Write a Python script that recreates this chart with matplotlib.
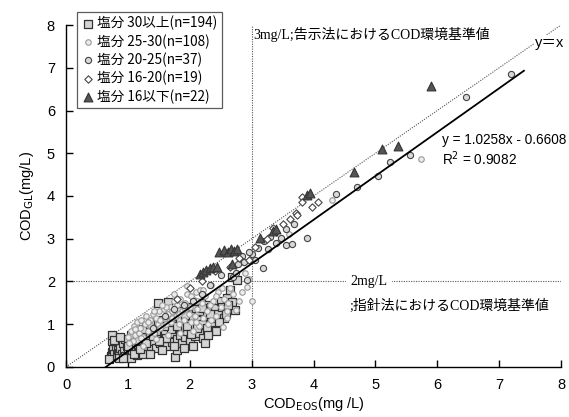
import matplotlib
matplotlib.use("Agg")
import matplotlib.pyplot as plt
import numpy as np

plt.rcParams['font.family'] = ['Liberation Sans', 'Noto Sans CJK JP', 'DejaVu Sans']

# ---------------- data ----------------
sq_x = [0.72,0.74,0.76,0.78,0.80,0.82,0.84,0.86,0.88,0.90,0.92,0.94,0.96,0.98,1.00,1.02,1.04,1.06,1.08,1.10,
        1.12,1.14,1.16,1.18,1.20,1.22,1.24,1.26,1.28,1.30,1.32,1.34,1.36,1.38,1.40,1.42,1.44,1.46,1.48,1.50,
        1.52,1.54,1.56,1.58,1.60,1.62,1.65,1.66,1.68,1.70,1.72,1.74,1.76,1.78,1.79,1.80,1.82,1.84,1.86,1.88,
        1.90,1.92,1.94,1.96,1.98,2.00,2.02,2.05,2.08,2.10,2.12,2.15,2.18,2.20,2.22,2.25,2.28,2.30,2.35,2.38,
        2.40,2.42,2.45,2.50,2.55,2.60,2.65,2.68,2.68,2.73,2.77,0.70,0.75,0.74,0.85,0.95,1.05,1.15,1.25,
        0.78,0.88,0.92,1.00,1.10,1.20,1.30,1.35,1.45,1.55,1.62,1.70,1.75,1.85,1.90,1.95,2.00,2.05,2.15,2.25,
        2.30,2.35,2.48,2.52,2.58,2.62,1.05,1.15,1.25,1.35,1.40,1.50,1.58,1.68,1.80,1.92,2.02,2.12,2.20,2.32]
sq_y = [0.25,0.35,0.42,0.30,0.50,0.28,0.40,0.33,0.45,0.30,0.55,0.38,0.26,0.48,0.35,0.60,0.42,0.30,0.52,0.68,
        0.40,0.75,0.50,0.35,0.62,0.85,0.45,0.70,0.55,0.95,0.40,0.65,0.80,0.50,1.05,0.60,0.75,0.45,1.50,0.90,
        0.55,0.70,1.10,0.62,0.85,0.48,1.52,0.95,0.70,1.20,0.58,0.80,0.23,1.00,0.40,0.65,1.30,0.75,0.90,0.55,
        1.15,0.70,1.40,0.85,1.05,0.62,1.25,0.95,0.72,1.35,1.10,0.80,1.50,1.00,0.68,1.20,0.90,1.45,1.40,1.05,
        1.38,0.85,1.25,1.55,1.15,1.61,1.80,1.52,2.11,1.33,2.04,0.18,0.60,0.75,0.20,0.65,0.22,0.28,0.30,
        0.62,0.70,0.20,0.50,0.30,0.42,0.55,0.30,0.85,0.40,0.68,0.88,0.50,1.10,0.45,0.95,1.20,0.50,1.30,0.55,
        0.75,1.15,1.05,1.40,1.25,1.45,0.75,0.62,0.88,1.00,0.72,0.60,0.95,1.05,0.95,1.22,0.78,0.92,1.38,1.25]

sc_x = [1.00,1.05,1.08,1.10,1.12,1.15,1.18,1.20,1.22,1.25,1.28,1.30,1.32,1.35,1.38,1.40,1.42,1.45,1.48,1.50,
        1.52,1.55,1.58,1.60,1.62,1.65,1.68,1.70,1.72,1.75,1.78,1.80,1.82,1.85,1.88,1.90,1.92,1.95,1.98,2.00,
        2.02,2.05,2.08,2.10,2.12,2.15,2.16,2.20,2.22,2.25,2.28,2.30,2.34,2.38,2.42,2.45,2.50,2.53,2.55,2.60,
        2.65,2.74,2.80,2.92,2.95,1.25,1.45,1.65,1.85,2.05,5.74,3.60,4.30,
        1.02,1.12,1.22,1.32,1.42,1.52,1.62,1.72,1.82,1.92,2.02,2.12,2.22,2.32,2.42,2.52,2.62,2.70,1.55,1.75,
        1.95,2.10,2.35,2.60,2.85,3.00,2.90]
sc_y = [0.70,0.85,0.60,0.95,0.75,1.05,0.80,0.90,1.10,0.70,1.00,1.20,0.85,1.10,0.95,1.25,0.80,1.15,1.00,1.30,
        1.10,0.95,1.35,1.15,1.00,1.25,1.40,1.05,1.30,1.55,1.20,1.45,1.00,1.60,1.30,1.10,1.50,1.70,1.25,1.40,
        1.05,1.60,1.20,1.75,1.35,0.95,1.80,1.50,1.15,1.65,1.30,1.00,1.92,1.55,1.20,1.75,1.40,0.94,1.60,1.30,
        1.85,1.33,1.55,1.87,2.05,0.50,0.65,0.75,0.80,0.85,4.87,3.10,3.90,
        0.55,0.88,0.68,1.05,1.30,0.90,1.40,1.15,1.25,1.35,1.65,1.55,1.80,1.45,1.65,1.85,1.50,1.70,1.45,1.70,
        1.90,1.05,1.10,1.15,1.75,1.55,2.20]

c_x = [7.19,6.47,5.56,5.23,5.05,4.71,4.37,3.69,3.56,3.89,3.48,3.40,3.55,3.65,3.27,3.10,3.18,2.92,2.85,2.82,
       2.78,2.88,2.50,2.33,2.70,2.75,3.05,3.00,2.95,1.60,1.75,1.90,2.05,1.40,2.20,3.30,3.20]
c_y = [6.85,6.32,4.96,4.80,4.47,4.21,4.05,3.35,3.23,3.02,3.02,2.90,2.85,2.88,2.76,2.78,2.32,2.04,2.60,2.48,
       2.40,2.45,2.15,1.92,2.10,2.20,2.50,2.65,2.70,1.20,1.35,1.45,1.55,0.90,1.70,3.05,2.95]

d_x = [4.08,3.82,3.81,3.71,3.73,3.50,3.40,3.62,3.25,3.05,2.95,2.80,2.65,2.40,2.20,2.00,1.80,3.35,3.98]
d_y = [3.86,3.98,3.86,3.60,3.56,3.35,3.15,3.45,3.00,2.80,2.50,2.55,2.35,2.25,2.00,1.85,1.60,3.25,3.75]

t_x = [2.16,2.21,2.27,2.32,2.37,2.44,2.48,2.55,2.61,2.66,2.71,2.76,2.68,3.13,3.35,3.40,3.90,3.95,4.66,5.11,5.37,5.90]
t_y = [2.18,2.22,2.27,2.32,2.34,2.34,2.69,2.74,2.69,2.76,2.71,2.76,2.41,3.02,3.18,3.23,4.02,4.07,4.56,5.10,5.17,6.57]

labels = ['塩分 30以上(n=194)', '塩分 25-30(n=108)', '塩分 20-25(n=37)', '塩分 16-20(n=19)', '塩分 16以下(n=22)']
slope, intercept = 1.0258, -0.6608
fit_x = [0.644, 7.4]

# ---------------- figure ----------------
fig = plt.figure(figsize=(5.69, 4.17), dpi=100)
ax = fig.add_axes([0.116, 0.12, 0.870, 0.82])
ax.set_xlim(0, 8)
ax.set_ylim(0, 8)

ax.plot([0, 8], [0, 8], ls=(0, (1, 1.2)), color='#555555', lw=0.8, zorder=1)
ax.plot([0, 8], [2, 2], ls=(0, (1, 1.2)), color='#555555', lw=0.8, zorder=1)
ax.plot([3, 3], [0, 8], ls=(0, (1, 1.2)), color='#555555', lw=0.8, zorder=1)
fx = np.array(fit_x)
ax.plot(fx, slope * fx + intercept, color='black', lw=1.3, zorder=6)

h1 = ax.scatter(sq_x, sq_y, marker='s', s=28, facecolor='#d4d4d4', edgecolor='#333333', linewidths=0.9, zorder=3)
h2 = ax.scatter(sc_x, sc_y, marker='o', s=16, facecolor='#ececec', edgecolor='#999999', linewidths=0.8, zorder=4)
h3 = ax.scatter(c_x, c_y, marker='o', s=20, facecolor='#d8d8d8', edgecolor='#444444', linewidths=0.8, zorder=4)
h4 = ax.scatter(d_x, d_y, marker='D', s=14, facecolor='white', edgecolor='#444444', linewidths=0.8, zorder=4)
h5 = ax.scatter(t_x, t_y, marker='^', s=40, facecolor='#555555', edgecolor='#333333', linewidths=0.8, zorder=5)

for s in ['top', 'right']:
    ax.spines[s].set_visible(False)
for s in ['left', 'bottom']:
    ax.spines[s].set_linewidth(1.0)
ax.set_xticks(range(0, 9))
ax.set_yticks(range(0, 9))
ax.tick_params(direction='in', length=5, width=1, labelsize=10.5, pad=8)

ax.set_xlabel('COD$_{\\mathrm{EOS}}$(mg /L)', fontsize=10.5, labelpad=2)
ax.set_ylabel('COD$_{\\mathrm{GL}}$(mg/L)', fontsize=10.5, labelpad=8)

leg = fig.legend([h1, h2, h3, h4, h5], labels, loc='upper left',
                 bbox_to_anchor=(0.135, 0.972), frameon=True, fancybox=False,
                 edgecolor='#333333', handletextpad=0.2, handlelength=1.0,
                 borderpad=0.3, labelspacing=0.28, borderaxespad=0,
                 prop={'family': ['Noto Sans CJK JP', 'DejaVu Sans'], 'size': 9.8})
leg.get_frame().set_linewidth(0.9)

serif_j = ['Liberation Serif', 'Noto Sans CJK JP', 'DejaVu Sans']
ax.text(3.03, 7.77, '3mg/L;告示法におけるCOD環境基準値', fontsize=10, family=serif_j,
        va='center', ha='left')
ax.text(4.6, 2.0, '2mg/L', fontsize=10, family=serif_j, va='center', ha='left',
        bbox=dict(facecolor='white', edgecolor='none', pad=3), zorder=7)
ax.text(4.58, 1.44, ';指針法におけるCOD環境基準値', fontsize=10, family=serif_j,
        va='center', ha='left')
ax.text(7.58, 7.57, 'y＝x', fontsize=10.5, family=['Liberation Sans', 'Noto Sans CJK JP'],
        va='center', ha='left', bbox=dict(facecolor='white', edgecolor='none', pad=1), zorder=7)
ax.text(6.08, 5.32, 'y = 1.0258x - 0.6608', fontsize=9.8, va='center', ha='left')
ax.text(6.08, 4.87, 'R$^2$ = 0.9082', fontsize=9.8, va='center', ha='left')

fig.savefig('out.png', dpi=100)
